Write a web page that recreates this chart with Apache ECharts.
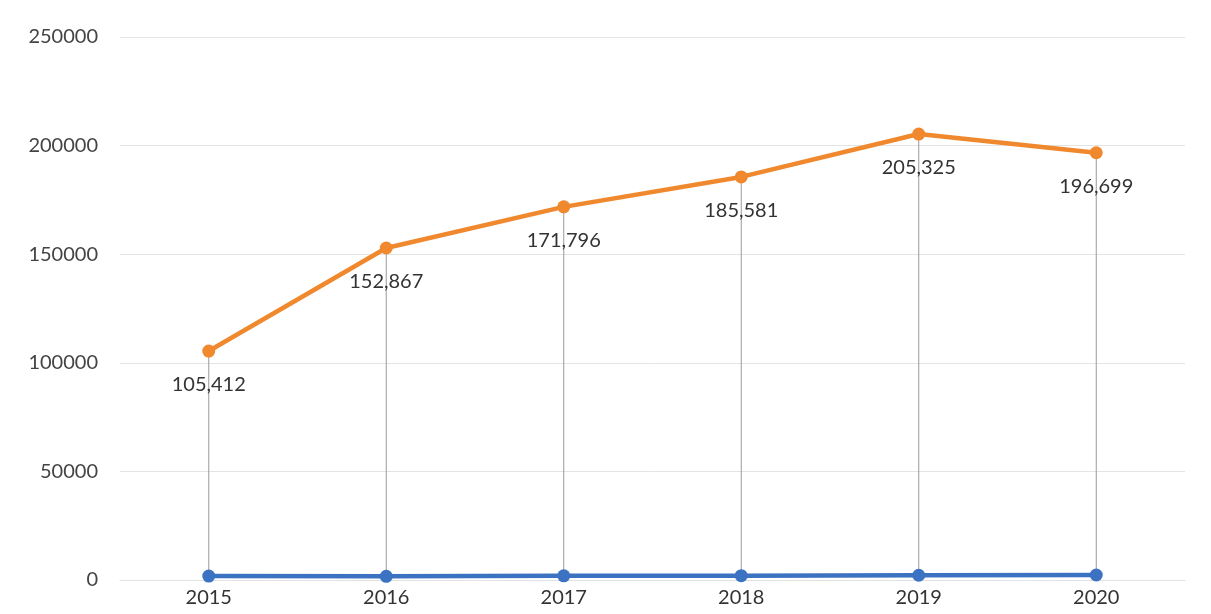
<!DOCTYPE html>
<html><head><meta charset="utf-8">
<script src="https://cdn.jsdelivr.net/npm/echarts@6/dist/echarts.min.js"></script>
<style>html,body{margin:0;padding:0;background:#fff}#c{width:1211px;height:614px}</style>
</head><body><div id="c"></div>
<script>
const years = ['2015','2016','2017','2018','2019','2020'];
const orangeValues = [105412, 152867, 171796, 185581, 205325, 196699];
const blueValues = [1800, 1700, 1900, 2000, 2200, 2300];
const yTicks = {min: 0, max: 250000, interval: 50000};

const chart = echarts.init(document.getElementById('c'));
const font = 'Lato, "Open Sans", "Noto Sans", sans-serif';
chart.setOption({
  animation: false,
  backgroundColor: '#ffffff',
  grid: {left: 120, right: 26, top: 37, bottom: 34},
  xAxis: {
    type: 'category', data: years, boundaryGap: true,
    axisLine: {show: true, lineStyle: {color: '#e2e2e2'}},
    axisTick: {show: false},
    axisLabel: {color: '#333', fontSize: 20, fontFamily: font, margin: 8}
  },
  yAxis: {
    type: 'value', min: yTicks.min, max: yTicks.max, interval: yTicks.interval,
    axisLine: {show: false}, axisTick: {show: false},
    splitLine: {lineStyle: {color: '#e4e4e4'}},
    axisLabel: {color: '#444', fontSize: 20, fontFamily: font, margin: 22, formatter: v => String(v)}
  },
  series: [
    {
      type: 'custom', z: 1,
      data: years.map((y, i) => [i, orangeValues[i], blueValues[i]]),
      renderItem: (params, api) => {
        const p1 = api.coord([api.value(0), api.value(1)]);
        const p2 = api.coord([api.value(0), api.value(2)]);
        return {type: 'line', shape: {x1: p1[0], y1: p1[1], x2: p2[0], y2: p2[1]},
          style: {stroke: '#9a9a9a', lineWidth: 1}};
      }
    },
    {
      type: 'line', data: orangeValues, z: 3,
      symbol: 'circle', symbolSize: 13,
      lineStyle: {color: '#f0882e', width: 4.5},
      itemStyle: {color: '#f0882e'},
      label: {show: true, position: 'bottom', distance: 17, color: '#333', fontSize: 20, fontFamily: font,
        formatter: p => p.value.toLocaleString('en-US')}
    },
    {
      type: 'line', data: blueValues, z: 3,
      symbol: 'circle', symbolSize: 13,
      lineStyle: {color: '#3c72c2', width: 4.5},
      itemStyle: {color: '#3c72c2'}
    }
  ]
});
</script></body></html>
